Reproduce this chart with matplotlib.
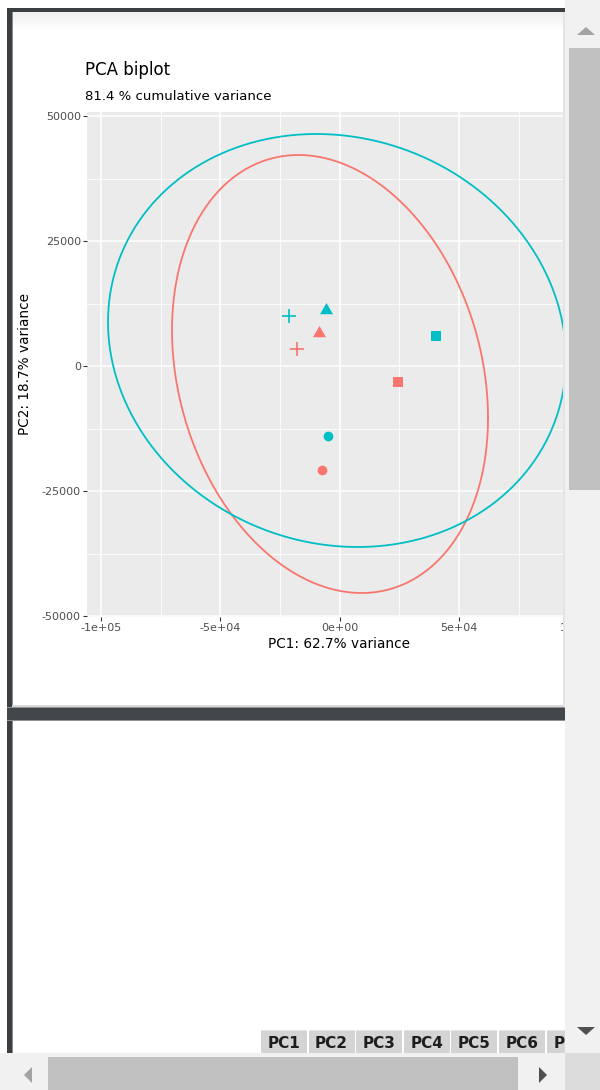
import numpy as np
import matplotlib
matplotlib.use("Agg")
import matplotlib.pyplot as plt
from matplotlib.patches import Rectangle, Polygon

plt.rcParams["font.family"] = ["DejaVu Sans"]

# ---- PCA scores (PC1, PC2) per sample ----
sample_group = ["A", "B", "A", "B", "A", "B", "A", "B"]
sample_shape = ["plus", "plus", "triangle", "triangle", "square", "square", "circle", "circle"]
pc1_scores = [-17920, -21270, -8590, -5780, 24500, 40410, -7580, -5070]
pc2_scores = [3460, 10000, 6540, 11300, -3200, 6000, -20860, -14000]

# ---- confidence ellipses per group ----
ellipse_groups = ["A", "B"]
ellipse_center_x = [-4100, -1170]
ellipse_center_y = [-1600, 5100]
ellipse_half_x = [66170, 95900]
ellipse_half_y = [43800, 41300]
ellipse_corr = [-0.20, -0.09]

group_colors = {"A": "#F8766D", "B": "#00BFC4"}

# ---- axis ticks ----
x_ticks = [-100000, -50000, 0, 50000, 100000]
x_tick_labels = ["-1e+05", "-5e+04", "0e+00", "5e+04", "1e+05"]
x_minor = [-75000, -25000, 25000, 75000]
y_ticks = [-50000, -25000, 0, 25000, 50000]
y_tick_labels = ["-50000", "-25000", "0", "25000", "50000"]
y_minor = [-37500, -12500, 12500, 37500]
x_limits = (-105870, 105200)
y_limits = (-50200, 50800)

title_text = "PCA biplot"
subtitle_text = "81.4 % cumulative variance"
x_label = "PC1: 62.7% variance"
y_label = "PC2: 18.7% variance"
pc_tabs = ["PC1", "PC2", "PC3", "PC4", "PC5", "PC6", "PC7"]

W, H = 600, 1090
fig = plt.figure(figsize=(W / 100, H / 100), dpi=100, facecolor="white")


def fx(px):
    return px / W


def fy(py):
    return 1 - py / H


def box(x0, y0, x1, y1, color, z=10, alpha=1.0):
    fig.add_artist(Rectangle((fx(x0), fy(y1)), (x1 - x0) / W, (y1 - y0) / H,
                             transform=fig.transFigure, facecolor=color,
                             edgecolor="none", zorder=z, alpha=alpha))


def tri(points, color, z=12):
    fig.add_artist(Polygon([(fx(a), fy(b)) for a, b in points], closed=True,
                           transform=fig.transFigure, facecolor=color,
                           edgecolor="none", zorder=z))


# ---- main plot panel ----
ax = fig.add_axes([fx(87), fy(617), (591 - 87) / W, (617 - 112) / H])
ax.set_facecolor("#EBEBEB")
for s in ax.spines.values():
    s.set_visible(False)
ax.set_xlim(*x_limits)
ax.set_ylim(*y_limits)
ax.set_xticks(x_ticks)
ax.set_xticklabels(x_tick_labels)
ax.set_yticks(y_ticks)
ax.set_yticklabels(y_tick_labels)
ax.set_xticks(x_minor, minor=True)
ax.set_yticks(y_minor, minor=True)
ax.set_axisbelow(True)
ax.grid(which="major", color="white", linewidth=1.1)
ax.grid(which="minor", color="white", linewidth=0.6)
ax.tick_params(which="major", labelsize=8, labelcolor="#4D4D4D", color="#333333",
               length=2.9, width=0.8, pad=1.5)
ax.tick_params(which="minor", length=0)

t = np.linspace(0, 2 * np.pi, 361)
for g, cx, cy, hx, hy, r in zip(ellipse_groups, ellipse_center_x, ellipse_center_y,
                                ellipse_half_x, ellipse_half_y, ellipse_corr):
    ex = cx + hx * np.cos(t)
    ey = cy + hy * (r * np.cos(t) + np.sqrt(1 - r * r) * np.sin(t))
    ax.plot(ex, ey, color=group_colors[g], linewidth=1.3, zorder=3)

tri_verts = [(-1, -0.577), (1, -0.577), (0, 1.155)]
marker_style = {
    "plus": dict(marker="+", markersize=10.5, markeredgewidth=1.2),
    "triangle": dict(marker=tri_verts, markersize=10.8, markeredgewidth=0),
    "square": dict(marker="s", markersize=7, markeredgewidth=0),
    "circle": dict(marker="o", markersize=7, markeredgewidth=0),
}
for g, shp, x, y in zip(sample_group, sample_shape, pc1_scores, pc2_scores):
    c = group_colors[g]
    ax.plot([x], [y], linestyle="none", color=c, markerfacecolor=c,
            markeredgecolor=c, zorder=4, **marker_style[shp])

# titles and axis titles
fig.text(fx(85), fy(75), title_text, fontsize=12, color="black", va="baseline", ha="left")
fig.text(fx(85), fy(100.5), subtitle_text, fontsize=9.5, color="black", va="baseline", ha="left")
fig.text(fx(339), fy(644), x_label, fontsize=9.8, color="black", va="center", ha="center")
fig.text(fx(25), fy(364), y_label, fontsize=9.8, color="black", va="center", ha="center",
         rotation=90)

# ---- surrounding frame ----
# top shading inside the panel
for k in range(18):
    box(12, 12 + k, 565, 13 + k, "black", z=6, alpha=0.06 * (1 - k / 18))
box(7, 8, 565, 12, "#3c3f42", z=7)          # top border
box(7, 8, 12, 1055, "#3c3f42", z=7)         # left border
box(12, 12, 13, 1055, "#8a8c8e", z=7)
box(12, 705, 565, 707, "#d8d8d8", z=7)
box(7, 707, 565, 721, "#43474b", z=7)       # separator band
box(7, 707, 565, 708, "#8f9294", z=7)
box(7, 720, 565, 721, "#8f9294", z=7)
box(563, 12, 565, 707, "#e4e4e4", z=7)

# tabs
for i, name in enumerate(pc_tabs):
    x0 = 261 + 47.6 * i
    box(x0, 1030, x0 + 46, 1055, "#d4d4d4", z=8)
    box(x0, 1030, x0 + 46, 1031, "#e6e6e6", z=8)
    fig.text(fx(x0 + 23), fy(1043.5), name, fontsize=11, fontweight="bold",
             color="#1e1e1e", ha="center", va="center", zorder=9)

# vertical scrollbar
box(565, 0, 600, 1053, "#f1f1f1", z=11)
box(569, 48, 600, 490, "#c1c1c1", z=11)
tri([(577, 35), (595, 35), (586, 27)], "#a3a3a3")
tri([(577, 1027), (595, 1027), (586, 1035)], "#505050")

# horizontal scrollbar
box(0, 1053, 565, 1090, "#f1f1f1", z=11)
box(48, 1057, 518, 1090, "#c1c1c1", z=11)
tri([(32, 1067), (32, 1083), (24, 1075)], "#a3a3a3")
tri([(539, 1067), (539, 1083), (547, 1075)], "#505050")
box(565, 1053, 600, 1090, "#dcdcdc", z=11)

fig.savefig("out.png", dpi=100, facecolor="white")
